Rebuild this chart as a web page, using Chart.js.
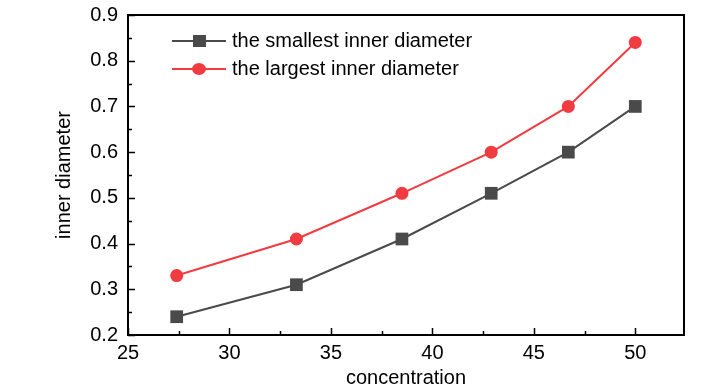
<!DOCTYPE html>
<html>
<head>
<meta charset="utf-8">
<script src="https://cdn.jsdelivr.net/npm/chart.js@4/dist/chart.umd.min.js"></script>
<style>
   body { margin: 0; background: #fff; }
   #wrap { width: 728px; height: 390px; }
</style>
</head>
<body>
<div id="wrap"><canvas id="chart-line"></canvas></div>
<script>
var concentration = [27.4, 33.3, 38.5, 42.9, 46.7, 50];
var smallest = [0.24, 0.31, 0.41, 0.51, 0.60, 0.70];
var largest = [0.33, 0.41, 0.51, 0.60, 0.70, 0.84];
var xTicks = [25, 30, 35, 40, 45, 50];
var yTicks = [0.2, 0.3, 0.4, 0.5, 0.6, 0.7, 0.8, 0.9];
var seriesNames = ["the smallest inner diameter", "the largest inner diameter"];

var FONT = "'Liberation Sans Narrow', 'Arial Narrow', 'Liberation Sans', sans-serif";
var GRAY = "#4a4a4a";
var RED = "#f03c40";

function toPoints(xs, ys) {
   return xs.map(function (x, i) {
      return { x: x, y: ys[i] };
   });
}

// frame, inward ticks and legend inside the plot
var decorPlugin = {
   id: "decor",
   afterDraw: function (chart) {
      var ctx = chart.ctx;
      var a = chart.chartArea;
      var xs = chart.scales.x;
      var ys = chart.scales.y;
      ctx.save();
      ctx.strokeStyle = "#000";
      ctx.lineWidth = 2;
      ctx.strokeRect(a.left, a.top, a.right - a.left, a.bottom - a.top);
      ctx.lineWidth = 1.5;
      ctx.beginPath();
      for (var v = 25; v <= 50.01; v += 2.5) {
         var px = Math.round(xs.getPixelForValue(v)) + 0.5;
         var len = v % 5 === 0 ? 7 : 4;
         ctx.moveTo(px, a.bottom);
         ctx.lineTo(px, a.bottom - len);
      }
      for (var k = 0; k <= 14; k++) {
         var val = 0.2 + k * 0.05;
         var py = Math.round(ys.getPixelForValue(val)) + 0.5;
         var l2 = k % 2 === 0 ? 7 : 4;
         ctx.moveTo(a.left, py);
         ctx.lineTo(a.left + l2, py);
      }
      ctx.stroke();

      // legend
      var lx = a.left + 44;
      var ly = a.top + 26;
      var rows = [
         { color: GRAY, style: "rect" },
         { color: RED, style: "circle" },
      ];
      rows.forEach(function (r, i) {
         var y = ly + i * 28;
         ctx.strokeStyle = r.color;
         ctx.fillStyle = r.color;
         ctx.lineWidth = 2;
         ctx.beginPath();
         ctx.moveTo(lx, y);
         ctx.lineTo(lx + 54, y);
         ctx.stroke();
         if (r.style === "rect") {
            ctx.fillRect(lx + 21, y - 6, 13, 12);
         } else {
            ctx.beginPath();
            ctx.ellipse(lx + 27, y, 7, 6, 0, 0, Math.PI * 2);
            ctx.fill();
         }
         ctx.fillStyle = "#000";
         ctx.font = "20px " + FONT;
         ctx.textBaseline = "middle";
         ctx.textAlign = "left";
         ctx.fillText(seriesNames[i], lx + 60, y);
      });
      ctx.restore();
   },
};

var ctxLine = document.getElementById("chart-line").getContext("2d");
window.grafica = new Chart(ctxLine, {
   type: "line",
   plugins: [decorPlugin],
   data: {
      datasets: [
         {
            label: seriesNames[0],
            data: toPoints(concentration, smallest),
            borderColor: GRAY,
            backgroundColor: GRAY,
            borderWidth: 2,
            pointStyle: "rect",
            pointRadius: 9,
            pointHoverRadius: 9,
            pointBorderWidth: 0,
            tension: 0,
         },
         {
            label: seriesNames[1],
            data: toPoints(concentration, largest),
            borderColor: RED,
            backgroundColor: RED,
            borderWidth: 2,
            pointStyle: "circle",
            pointRadius: 6.5,
            pointHoverRadius: 6.5,
            pointBorderWidth: 0,
            tension: 0,
         },
      ],
   },
   options: {
      responsive: true,
      maintainAspectRatio: false,
      animation: false,
      layout: {
         padding: { top: 15, right: 44, bottom: 0, left: 0 },
      },
      plugins: {
         legend: { display: false },
         tooltip: { enabled: false },
      },
      scales: {
         x: {
            type: "linear",
            min: 25,
            max: 52.4,
            afterBuildTicks: function (scale) {
               scale.ticks = xTicks.map(function (v) {
                  return { value: v };
               });
            },
            afterFit: function (scale) {
               scale.height = 55;
               scale.paddingLeft = 0;
               scale.paddingRight = 0;
            },
            grid: { display: false, drawTicks: false },
            border: { display: false },
            ticks: {
               color: "#000",
               padding: 6,
               font: { size: 20, family: FONT },
            },
            title: {
               display: true,
               text: "concentration",
               color: "#000",
               padding: { top: 0, bottom: 0 },
               font: { size: 20, family: FONT },
            },
         },
         y: {
            type: "linear",
            min: 0.2,
            max: 0.9,
            afterBuildTicks: function (scale) {
               scale.ticks = yTicks.map(function (v) {
                  return { value: v };
               });
            },
            afterFit: function (scale) {
               scale.width = 128;
               scale.paddingTop = 0;
               scale.paddingBottom = 0;
            },
            grid: { display: false, drawTicks: false },
            border: { display: false },
            ticks: {
               color: "#000",
               padding: 10,
               font: { size: 20, family: FONT },
               callback: function (v) {
                  return v.toFixed(1);
               },
            },
            title: {
               display: true,
               text: "inner diameter",
               color: "#000",
               padding: { top: 52, bottom: 0 },
               font: { size: 20, family: FONT },
            },
         },
      },
   },
});
</script>
</body>
</html>
